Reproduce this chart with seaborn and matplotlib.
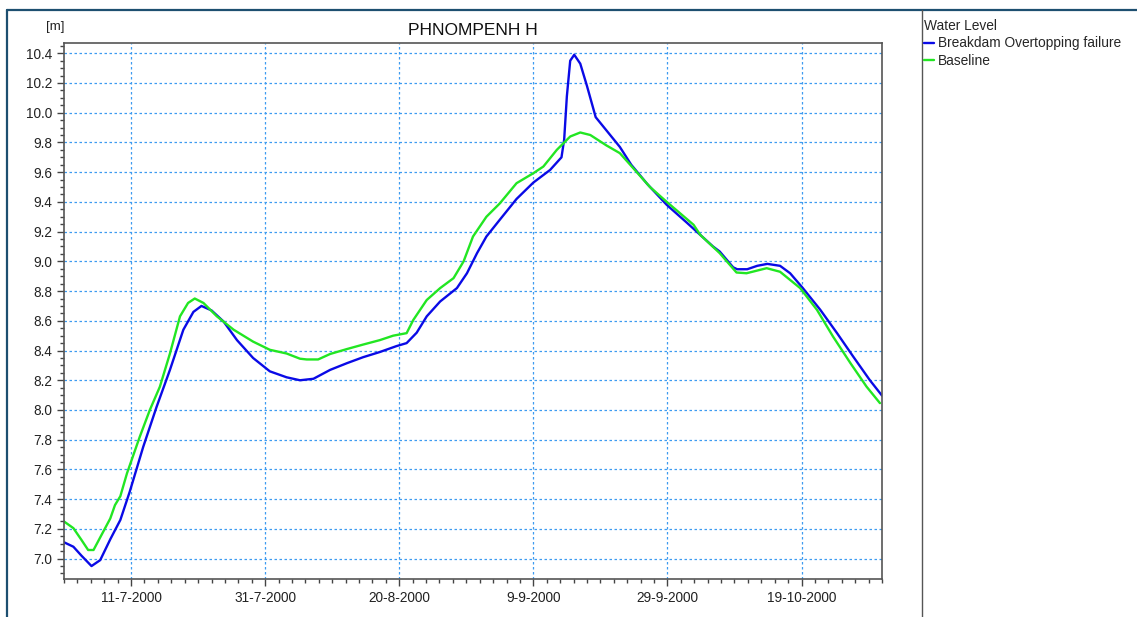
import pandas as pd
import seaborn as sns
import matplotlib.pyplot as plt
import matplotlib.ticker as mticker
import matplotlib.dates as mdates
from matplotlib.lines import Line2D

# days since 1-7-2000 and water level [m]
breakdam_days = [0, 1.4, 2.6, 4.1, 5.4, 6.9, 8.4, 9.8, 11.8, 13.8, 15.8, 17.8, 19.3, 20.5,
                 22.0, 23.8, 25.8, 28.2, 30.7, 33.2, 35.2, 37.2, 39.7, 42.2, 44.6, 47.1,
                 49.6, 51.1, 52.6, 54.1, 56.1, 58.6, 60.1, 61.6, 63.0, 65.0, 67.5, 70.0,
                 72.5, 74.2, 74.6, 75.0, 75.5, 76.1, 77.0, 78.0, 79.3, 81.1, 82.9, 84.6,
                 87.0, 89.9, 92.9, 94.9, 96.8, 97.8, 99.8, 100.4, 101.9, 103.4, 104.9,
                 106.8, 108.3, 110.2, 112.8, 115.3, 117.7, 120.2, 122.0]
breakdam_level = [7.11, 7.08, 7.02, 6.95, 6.99, 7.13, 7.26, 7.45, 7.75, 8.02, 8.27, 8.54, 8.66, 8.70,
                  8.67, 8.595, 8.47, 8.35, 8.26, 8.22, 8.20, 8.21, 8.27, 8.315, 8.355, 8.39,
                  8.43, 8.45, 8.52, 8.63, 8.73, 8.82, 8.92, 9.055, 9.167, 9.28, 9.42, 9.53,
                  9.615, 9.70, 9.82, 10.11, 10.35, 10.39, 10.33, 10.18, 9.97, 9.87, 9.77, 9.65,
                  9.52, 9.38, 9.26, 9.178, 9.10, 9.066, 8.96, 8.947, 8.947, 8.97, 8.983,
                  8.97, 8.92, 8.82, 8.674, 8.517, 8.36, 8.20, 8.097]

baseline_days = [0, 1.4, 2.6, 3.6, 4.4, 5.6, 6.9, 7.6, 8.4, 9.4, 11.3, 12.8, 14.3, 15.8, 17.3,
                 18.5, 19.5, 20.8, 22.8, 25.3, 28.2, 30.7, 33.2, 35.2, 36.2, 37.9, 39.7, 42.2,
                 44.6, 47.1, 49.1, 51.1, 52.1, 54.1, 56.1, 58.1, 59.6, 61.0, 63.0, 65.0, 67.5,
                 70.0, 71.5, 73.5, 75.5, 77.0, 78.5, 80.9, 82.9, 84.9, 87.4, 89.9, 93.9, 94.9,
                 97.8, 100.3, 101.8, 104.8, 106.8, 109.8, 112.3, 114.7, 117.3, 119.7, 121.7]
baseline_level = [7.25, 7.205, 7.126, 7.058, 7.058, 7.16, 7.27, 7.36, 7.42, 7.575, 7.82, 8.0, 8.157,
                  8.38, 8.63, 8.72, 8.75, 8.72, 8.63, 8.54, 8.46, 8.405, 8.38, 8.345, 8.34, 8.34,
                  8.377, 8.41, 8.44, 8.47, 8.50, 8.517, 8.606, 8.74, 8.82, 8.887, 9.0, 9.167,
                  9.30, 9.39, 9.526, 9.593, 9.638, 9.75, 9.84, 9.867, 9.85, 9.78, 9.728, 9.627,
                  9.50, 9.40, 9.246, 9.178, 9.055, 8.925, 8.92, 8.954, 8.93, 8.82, 8.674,
                  8.494, 8.315, 8.157, 8.046]

series_names = ["Breakdam Overtopping failure", "Baseline"]
start = pd.Timestamp("2000-07-01")

df = pd.concat([
    pd.DataFrame({"time": start + pd.to_timedelta(breakdam_days, unit="D"),
                  "level": breakdam_level, "series": series_names[0]}),
    pd.DataFrame({"time": start + pd.to_timedelta(baseline_days, unit="D"),
                  "level": baseline_level, "series": series_names[1]}),
])

sns.set_style("white")
plt.rcParams["font.family"] = ["Liberation Sans", "DejaVu Sans"]

fig = plt.figure(figsize=(11.37, 6.17), dpi=100)
ax = fig.add_axes([0.0563, 0.0616, 0.7194, 0.8687])

palette = {series_names[0]: "#0a0ae6", series_names[1]: "#22e622"}
sns.lineplot(data=df, x="time", y="level", hue="series", palette=palette,
             linewidth=1.7, ax=ax, legend=False, sort=False)

ax.set_xlim(start, start + pd.Timedelta(days=122))
ax.set_ylim(6.863, 10.469)

# ticks
major_dates = pd.date_range("2000-07-11", periods=6, freq="20D")
minor_dates = pd.date_range("2000-07-01", "2000-10-31", freq="2D")
ax.xaxis.set_major_locator(mticker.FixedLocator(mdates.date2num(major_dates)))
ax.xaxis.set_minor_locator(mticker.FixedLocator(mdates.date2num(minor_dates)))
ax.xaxis.set_major_formatter(mticker.FuncFormatter(
    lambda v, p: (lambda d: f"{d.day}-{d.month}-{d.year}")(mdates.num2date(v))))
ax.yaxis.set_major_locator(mticker.MultipleLocator(0.2))
ax.yaxis.set_minor_locator(mticker.MultipleLocator(0.05))
ax.yaxis.set_major_formatter(mticker.FormatStrFormatter("%.1f"))

ax.tick_params(which="major", length=5, width=1, color="#444444", labelsize=9.8,
               labelcolor="#222222", direction="out", bottom=True, left=True)
ax.tick_params(which="minor", length=3, width=1, color="#444444", direction="out",
               bottom=True, left=True)
ax.set_xlabel("")
ax.set_ylabel("")

ax.grid(True, which="major", color="#3d9bf0", linestyle=(0, (2, 2)), linewidth=0.9)
for s in ax.spines.values():
    s.set_color("#555555")
    s.set_linewidth(1.2)

ax.set_title("PHNOMPENH H", fontsize=12.5, color="#111111", pad=6)
fig.text(55 / 1137, 1 - 27 / 617, "[m]", ha="center", va="center", fontsize=9.5, color="#222222")

# legend panel
handles = [Line2D([], [], color=palette[n], linewidth=1.7) for n in series_names]
leg = fig.legend(handles, series_names, title="Water Level", loc="upper left",
                 bbox_to_anchor=(924 / 1137, 1 - 19 / 617), frameon=False,
                 handlelength=0.7, handletextpad=0.3, borderaxespad=0, borderpad=0,
                 labelspacing=0.25, fontsize=9.9, title_fontsize=9.9, alignment="left")

# window frame lines
fig.add_artist(Line2D([7 / 1137, 1], [1 - 10 / 617] * 2, transform=fig.transFigure,
                      color="#1d4f70", linewidth=1.6))
fig.add_artist(Line2D([7 / 1137] * 2, [0, 1 - 10 / 617], transform=fig.transFigure,
                      color="#1d4f70", linewidth=1.6))
fig.add_artist(Line2D([922 / 1137] * 2, [0, 1 - 10 / 617], transform=fig.transFigure,
                      color="#555555", linewidth=1.0))

fig.savefig("out.png", dpi=100)
